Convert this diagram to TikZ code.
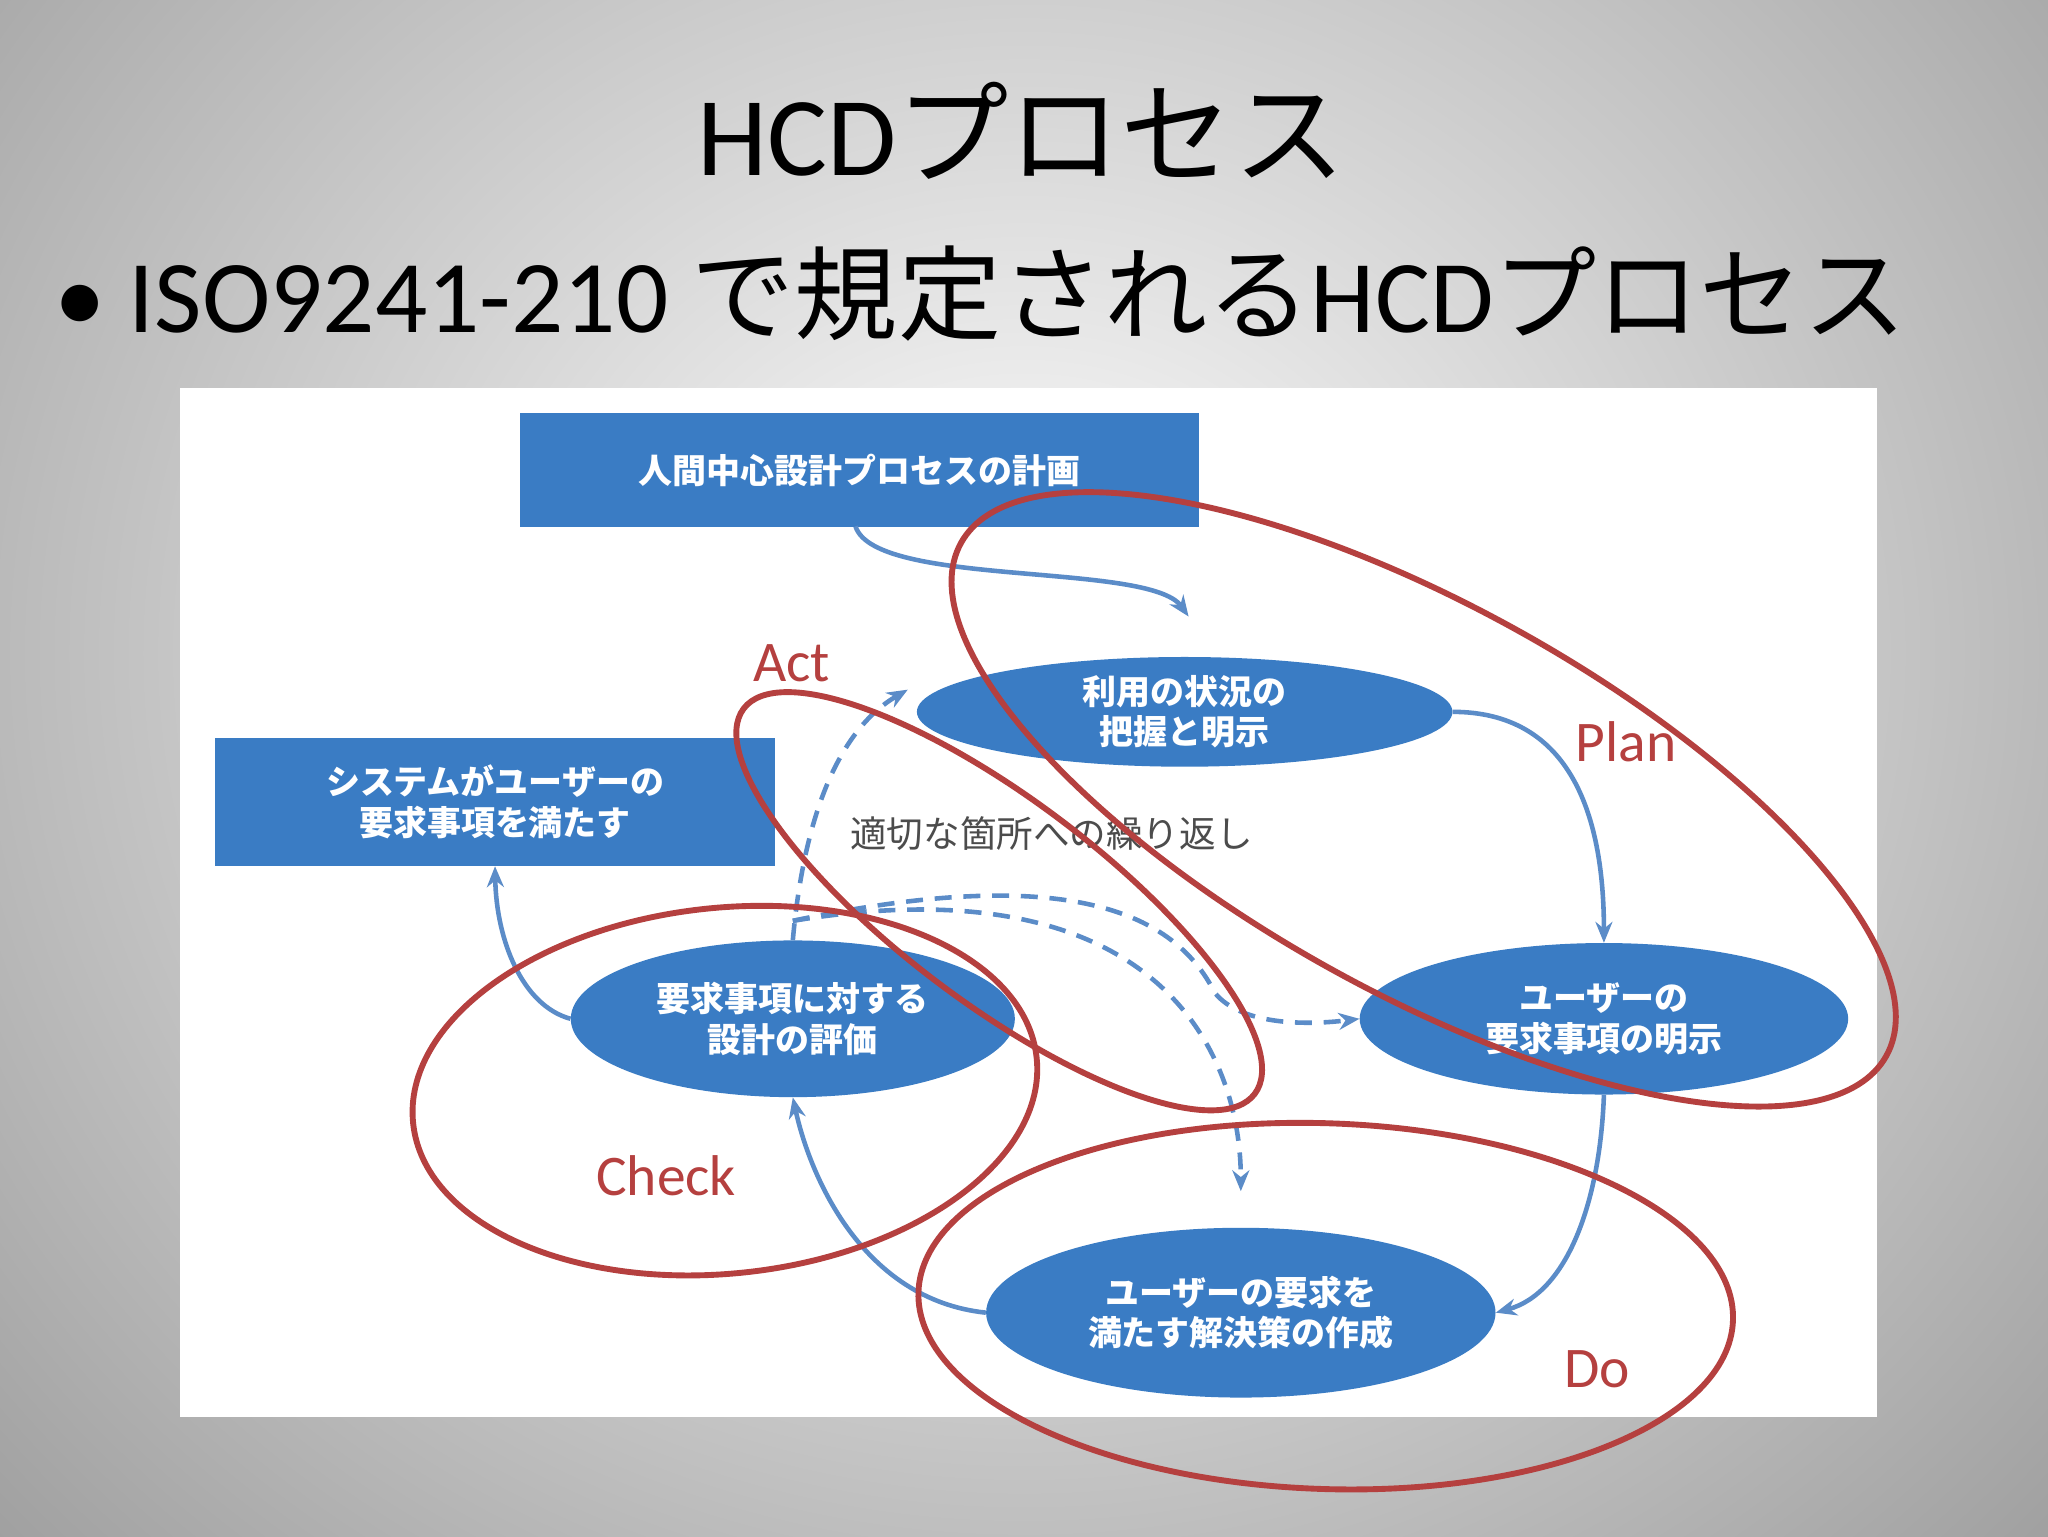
\documentclass[tikz,border=0pt]{standalone}
\usepackage{fontspec}
\setmainfont{Carlito}
\newfontfamily\jp{Noto Sans CJK JP}
\usetikzlibrary{arrows.meta,shapes.geometric}
\definecolor{bx}{HTML}{3A7CC4}
\definecolor{ln}{HTML}{5B8CC8}
\definecolor{rd}{HTML}{B5403F}
\tikzset{
 bluebox/.style={fill=bx,text=white,font=\jp\fontsize{26}{31}\selectfont\bfseries,align=center,inner sep=0},
 flow/.style={ln,line width=3.5pt,-{Stealth[length=16pt,width=13pt]}},
 dflow/.style={flow,dash pattern=on 13pt off 9pt},
 redring/.style={draw=rd,line width=4.5pt},
 pdca/.style={text=rd,font=\fontsize{44}{50}\selectfont}
}
\begin{document}
\begin{tikzpicture}[x=1pt,y=-1pt]
\useasboundingbox (0,0) rectangle (1568,1176);
\shade[inner color=white,outer color=gray!75] (-300,-500) rectangle (1868,1500);
\fill[white] (138,297) rectangle (1437,1085);
\node (title) at (782,100) {\fontsize{86}{94}\selectfont HCD{\jp プロセス}};
\node[anchor=west] (bul) at (38,225) {\fontsize{79}{86}\selectfont •\ ISO9241-210 {\jp で規定される}HCD{\jp プロセス}};
% boxes
\node[bluebox,minimum width=520,minimum height=87] (plan) at (658,360) {人間中心設計プロセスの計画};
\node[bluebox,minimum width=429,minimum height=98] (sat) at (379,614) {システムがユーザーの\\要求事項を満たす};
\node[bluebox,ellipse,minimum width=410,minimum height=84] (ctx) at (907,545) {利用の状況の\\把握と明示};
\node[bluebox,ellipse,minimum width=374,minimum height=116] (req) at (1228,780) {ユーザーの\\要求事項の明示};
\node[bluebox,ellipse,minimum width=340,minimum height=120] (ev) at (607,780) {要求事項に対する\\設計の評価};
\node[bluebox,ellipse,minimum width=390,minimum height=130] (sol) at (950,1005) {ユーザーの要求を\\満たす解決策の作成};
\node[text=black!70,font=\jp\fontsize{28}{32}\selectfont] (rep) at (805,638) {適切な箇所への繰り返し};
% arrows
\draw[flow] (655,403) .. controls (670,450) and (880,430) .. (910,472);
\draw[flow] (ctx.east) .. controls (1200,545) and (1228,620) .. (req.north);
\draw[flow] (req.south) .. controls (1225,920) and (1200,990) .. (sol.east);
\draw[flow] (sol.west) .. controls (660,995) and (620,900) .. (ev.south);
\draw[flow] (ev.west) .. controls (400,770) and (380,720) .. (sat.south);
\draw[dflow] (ev.north) .. controls (615,630) and (640,560) .. (695,528);
\draw[dflow] (607,705) .. controls (820,660) and (900,700) .. (930,760) .. controls (950,785) and (1000,785) .. (req.west);
\draw[dflow] (607,705) .. controls (880,660) and (950,800) .. (950,912);
% red rings
\draw[redring,rotate around={-29:(1090,612)}] (1090,612) ellipse [x radius=405,y radius=148];
\draw[redring,rotate around={-37:(765,690)}] (765,690) ellipse [x radius=245,y radius=78];
\draw[redring,rotate around={6:(555,835)}] (555,835) ellipse [x radius=240,y radius=140];
\draw[redring,rotate around={-2:(1015,1000)}] (1015,1000) ellipse [x radius=312,y radius=140];
\node[pdca] (act) at (606,508) {Act};
\node[pdca] (pl) at (1245,568) {Plan};
\node[pdca] (chk) at (510,900) {Check};
\node[pdca] (do) at (1223,1048) {Do};
\end{tikzpicture}
\end{document}
